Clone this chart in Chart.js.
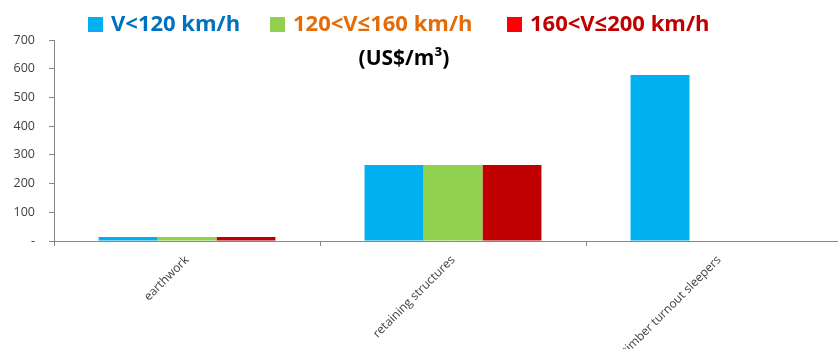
<!DOCTYPE html>
<html>
<head>
<meta charset="utf-8">
<script src="https://cdn.jsdelivr.net/npm/chart.js@4/dist/chart.umd.min.js"></script>
<style>
  html, body { margin: 0; padding: 0; background: #ffffff; overflow: hidden; }
  #wrap { width: 852px; height: 349px; }
</style>
</head>
<body>
<div id="wrap"><canvas id="chart" width="852" height="349"></canvas></div>
<script>
// Unit cost per cubic metre, by speed class
const categories = ['earthwork', 'retaining structures', 'timber turnout sleepers'];
const seriesNames = ['V<120 km/h', '120<V\u2264160 km/h', '160<V\u2264200 km/h'];
const lowSpeed = [14, 265, 578];
const midSpeed = [14, 265, 0];
const highSpeed = [14, 265, 0];
const yMax = 700;
const yStep = 100;
const unitLabel = '(US$/m\u00B3)';

const barColors = ['#00B0F0', '#92D050', '#C00000'];
const keyColors = ['#00B0F0', '#92D050', '#FF0000'];
const keyTextColors = ['#0070C0', '#E36C09', '#C00000'];

// Legend row and unit caption drawn above the plot
const headerPlugin = {
  id: 'header',
  afterDraw(chart) {
    const ctx = chart.ctx;
    const boxX = [88, 270, 507];
    ctx.save();
    ctx.font = 'bold 22px "Open Sans", "Liberation Sans", sans-serif';
    ctx.textBaseline = 'middle';
    ctx.textAlign = 'left';
    chart.data.datasets.forEach((ds, i) => {
      ctx.fillStyle = keyColors[i];
      ctx.fillRect(boxX[i], 17, 15, 15);
      ctx.fillStyle = keyTextColors[i];
      ctx.fillText(ds.label, boxX[i] + 23, 25);
    });
    ctx.fillStyle = '#000000';
    ctx.textAlign = 'center';
    ctx.font = 'bold 21px "Open Sans", "Liberation Sans", sans-serif';
    ctx.fillText(unitLabel, 404, 59);
    ctx.restore();
  }
};

new Chart(document.getElementById('chart'), {
  type: 'bar',
  data: {
    labels: categories,
    datasets: [
      { label: seriesNames[0], data: lowSpeed, backgroundColor: barColors[0] },
      { label: seriesNames[1], data: midSpeed, backgroundColor: barColors[1] },
      { label: seriesNames[2], data: highSpeed, backgroundColor: barColors[2] }
    ]
  },
  options: {
    responsive: false,
    devicePixelRatio: 1,
    animation: false,
    layout: { padding: { top: 40, left: 0, right: 0, bottom: 0 } },
    datasets: { bar: { categoryPercentage: 0.665, barPercentage: 1.0, borderWidth: 0 } },
    plugins: {
      legend: { display: false },
      title: { display: false },
      tooltip: { enabled: false }
    },
    scales: {
      x: {
        afterFit(scale) { scale.height = 108; },
        grid: { offset: true, drawOnChartArea: false, drawTicks: true, tickLength: 5, color: '#868686' },
        border: { display: true, color: '#868686', width: 1 },
        ticks: {
          autoSkip: false,
          maxRotation: 45,
          minRotation: 45,
          padding: 7,
          color: '#404040',
          font: { family: '"Open Sans", "Liberation Sans", sans-serif', size: 12 }
        }
      },
      y: {
        min: 0,
        max: yMax,
        afterFit(scale) { scale.width = 54; },
        grid: { drawOnChartArea: false, drawTicks: true, tickLength: 5, color: '#868686' },
        border: { display: true, color: '#868686', width: 1 },
        ticks: {
          stepSize: yStep,
          padding: 14,
          color: '#404040',
          font: { family: '"Open Sans", "Liberation Sans", sans-serif', size: 12.5 },
          callback: (v) => (v === 0 ? '-' : v)
        }
      }
    }
  },
  plugins: [headerPlugin]
});
</script>
</body>
</html>
